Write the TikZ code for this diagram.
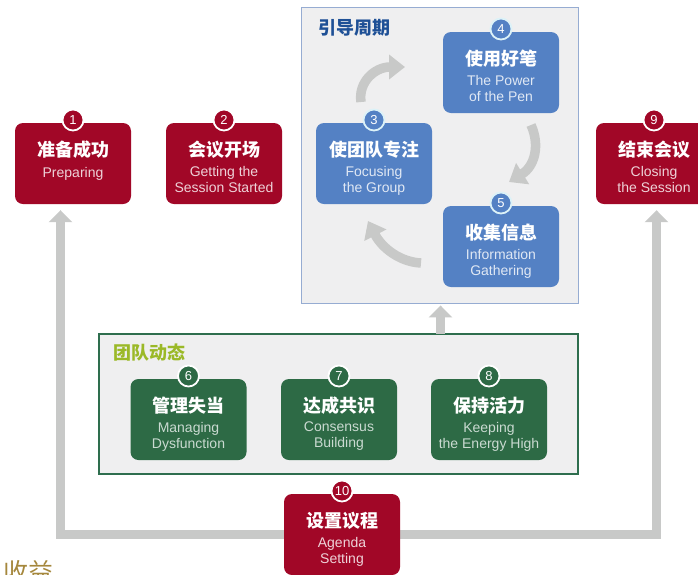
\documentclass[tikz,border=0pt]{standalone}
\usepackage{fontspec}
\setmainfont{Liberation Sans}
\newfontfamily\cjk{Noto Sans CJK SC}
\usetikzlibrary{arrows.meta}
\definecolor{cred}{RGB}{161,7,39}
\definecolor{cblue}{RGB}{84,129,196}
\definecolor{cgreen}{RGB}{45,106,69}
\definecolor{cpanel}{RGB}{239,239,240}
\definecolor{cbluebd}{RGB}{150,172,210}
\definecolor{cgreenbd}{RGB}{46,110,78}
\definecolor{cgray}{RGB}{200,201,200}
\definecolor{ctblue}{RGB}{30,80,150}
\definecolor{ctgreen}{RGB}{155,185,40}
\definecolor{cgold}{RGB}{165,135,60}
\definecolor{cring}{RGB}{220,242,248}
\pgfdeclarelayer{bg}
\pgfsetlayers{bg,main}
\tikzset{
  box/.style={rounded corners=8pt, minimum width=116pt, minimum height=81pt, inner sep=0pt, draw=none},
  numc/.style={circle, minimum size=21pt, inner sep=0pt, line width=1.8pt, text=white, font=\fontsize{13}{13}\selectfont},
  cntext/.style={inner sep=0pt, text=white, font=\cjk\bfseries\fontsize{18}{20}\selectfont},
  entext/.style={inner sep=0pt, align=center, font=\fontsize{14}{16}\selectfont, execute at begin node=\strut},
  panel/.style={fill=cpanel, inner sep=0pt},
  ttl/.style={inner sep=0pt, anchor=west, font=\cjk\bfseries\fontsize{18}{20}\selectfont},
  garrow/.style={draw=cgray, line width=9pt, line join=miter, -{Triangle[width=23pt,length=12pt]}},
  carrow/.style={draw=cgray, line width=9.5pt, -{Triangle[width=24pt,length=16pt]}}
}
\newcommand\mkbox[9]{%
  \node[box, fill=#4] (#1) at (#2,#3+40.5) {};
  \node[numc, fill=#4, draw=#6] (#1n) at (#2,#3-3) {#7};
  \node[cntext, anchor=base] (#1c) at (#2,#3+33) {#8};
  \node[entext, text=#5, anchor=north] (#1e) at (#2,#3+42.8) {#9};
}
\begin{document}
\begin{tikzpicture}[x=1pt,y=-1pt]
\useasboundingbox (0,0) rectangle (698,574);
% panels
\node[panel, draw=cbluebd, line width=0.9pt, minimum width=277pt, minimum height=296pt] (cyc) at (439.5,155) {};
\node[ttl, text=ctblue] (cyct) at (318,28) {引导周期};
\node[panel, draw=cgreenbd, line width=1.2pt, minimum width=479pt, minimum height=140pt] (dyn) at (338.5,404) {};
\node[ttl, text=ctgreen] (dynt) at (113,353) {团队动态};
% boxes
\mkbox{b1}{73}{123}{cred}{white!82!cred}{white}{1}{准备成功}{Preparing}
\mkbox{b2}{224}{123}{cred}{white!82!cred}{white}{2}{会议开场}{Getting the\\Session Started}
\mkbox{b9}{654}{123}{cred}{white!82!cred}{white}{9}{结束会议}{Closing\\the Session}
\mkbox{b3}{374}{123}{cblue}{white!82!cblue}{cring}{3}{使团队专注}{Focusing\\the Group}
\mkbox{b4}{501}{32}{cblue}{white!82!cblue}{cring}{4}{使用好笔}{The Power\\of the Pen}
\mkbox{b5}{501}{206}{cblue}{white!82!cblue}{cring}{5}{收集信息}{Information\\Gathering}
\mkbox{b6}{188.5}{379}{cgreen}{white!75!cgreen}{white}{6}{管理失当}{Managing\\Dysfunction}
\mkbox{b7}{339}{379}{cgreen}{white!75!cgreen}{white}{7}{达成共识}{Consensus\\Building}
\mkbox{b8}{489}{379}{cgreen}{white!75!cgreen}{white}{8}{保持活力}{Keeping\\the Energy High}
\mkbox{b10}{342}{494}{cred}{white!82!cred}{white}{10}{设置议程}{Agenda\\Setting}
% coordinates for connectors
\coordinate (lc) at (60.5,534.5);
\coordinate (rc) at (656.5,534.5);
\coordinate (ga) at (440.5,334);
\coordinate (a1s) at (361,102);
\coordinate (a1e) at (405,67);
\coordinate (a2s) at (531,125);
\coordinate (a2e) at (509,182);
\coordinate (a3s) at (421,263);
\coordinate (a3e) at (368,221);
\begin{pgfonlayer}{bg}
\fill[white] (0,0) rectangle (698,574);
\draw[garrow, shorten >=6pt] (b10.west) -- (lc) -- (b1.south -| lc);
\draw[garrow, shorten >=6pt] (b10.east) -- (rc) -- (b9.south -| rc);
\end{pgfonlayer}
\draw[garrow, shorten >=2pt] (ga) -- (ga |- cyc.south);
\draw[carrow] (a1s) .. controls (358,82) and (375,67) .. (a1e);
\draw[carrow] (a2s) .. controls (540,145) and (535,166) .. (a2e);
\draw[carrow] (a3s) .. controls (400,262) and (382,248) .. (a3e);
% cut-off caption
\node[inner sep=0pt, text=cgold, font=\cjk\fontsize{25}{25}\selectfont] (cap) at (28,572) {收益};
\end{tikzpicture}
\end{document}
